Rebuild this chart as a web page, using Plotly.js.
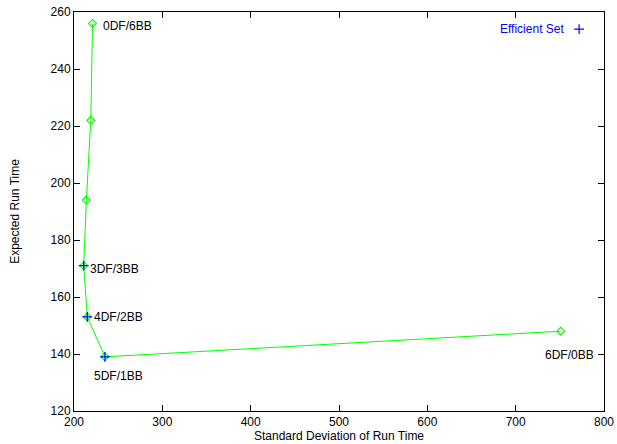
<!DOCTYPE html>
<html>
<head>
<meta charset="utf-8">
<script src="https://cdn.plot.ly/plotly-3.0.1.min.js"></script>
<style>html,body{margin:0;padding:0;background:#fff}#chart{width:617px;height:444px}</style>
</head>
<body>
<div id="chart"></div>
<script>
// Data
const configLabels = ["0DF/6BB", "1DF/5BB", "2DF/4BB", "3DF/3BB", "4DF/2BB", "5DF/1BB", "6DF/0BB"];
const stdDev = [221, 219, 214, 211, 215, 235, 751];
const expectedTime = [256, 222, 194, 171, 153, 139, 148];
const efficientLabels = ["3DF/3BB", "4DF/2BB", "5DF/1BB"];
const shownLabels = ["0DF/6BB", "3DF/3BB", "4DF/2BB", "5DF/1BB", "6DF/0BB"];
const xTicks = [200, 300, 400, 500, 600, 700, 800];
const yTicks = [120, 140, 160, 180, 200, 220, 240, 260];

const effX = efficientLabels.map(l => stdDev[configLabels.indexOf(l)]);
const effY = efficientLabels.map(l => expectedTime[configLabels.indexOf(l)]);

const font = {family: "Liberation Sans, Arial, sans-serif", size: 12, color: "#000"};

// label placement styles (offsets in px)
const labelStyle = {
  "0DF/6BB": {xanchor: "left", yanchor: "middle", xshift: 8, yshift: -3},
  "3DF/3BB": {xanchor: "left", yanchor: "middle", xshift: 4, yshift: -3},
  "4DF/2BB": {xanchor: "left", yanchor: "middle", xshift: 5, yshift: 0},
  "5DF/1BB": {xanchor: "left", yanchor: "middle", xshift: -13, yshift: -19},
  "6DF/0BB": {xanchor: "left", yanchor: "middle", xshift: -18, yshift: -24}
};

const annotations = shownLabels.map(l => {
  const i = configLabels.indexOf(l);
  const s = labelStyle[l];
  return {x: stdDev[i], y: expectedTime[i], xref: "x", yref: "y", text: l, showarrow: false,
    xanchor: s.xanchor, yanchor: s.yanchor, xshift: s.xshift, yshift: s.yshift, font: font};
});
annotations.push({x: 0.929, y: 0.957, xref: "paper", yref: "paper", text: "Efficient Set",
  showarrow: false, xanchor: "right", yanchor: "middle", font: {family: font.family, size: 12, color: "#0000ff"}});

const traces = [
  {x: stdDev, y: expectedTime, mode: "lines+markers", type: "scatter", showlegend: false,
   line: {color: "#00ff00", width: 1},
   marker: {symbol: "diamond-open", size: 6, color: "#00ff00", line: {color: "#00ff00", width: 1.2}}},
  {x: effX, y: effY, mode: "markers", type: "scatter", showlegend: false,
   marker: {symbol: "cross-thin-open", size: 7, color: "#0000ff", line: {color: "#0000ff", width: 1.2}}},
  {x: [0.953], y: [0.957], xaxis: "x2", yaxis: "y2", mode: "markers", type: "scatter", showlegend: false,
   marker: {symbol: "cross-thin-open", size: 7, color: "#0000ff", line: {color: "#0000ff", width: 1.2}}}
];

const layout = {
  width: 617, height: 444,
  margin: {l: 74, r: 13, t: 12, b: 33},
  paper_bgcolor: "#fff", plot_bgcolor: "#fff",
  font: font,
  showlegend: false,
  xaxis: {range: [200, 800], tickvals: xTicks, ticktext: xTicks.map(String), ticks: "inside", ticklen: 6,
    tickcolor: "#000", showline: true, linecolor: "#000", linewidth: 1, mirror: "ticks", showgrid: false, zeroline: false,
    tickfont: font, title: {text: "Standard Deviation of Run Time", font: font, standoff: 0}},
  yaxis: {range: [120, 260], tickvals: yTicks, ticktext: yTicks.map(String), ticks: "inside", ticklen: 6,
    tickcolor: "#000", showline: true, linecolor: "#000", linewidth: 1, mirror: "ticks", showgrid: false, zeroline: false,
    tickfont: font, title: {text: "Expected Run Time", font: font, standoff: 28}},
  xaxis2: {range: [0, 1], overlaying: "x", visible: false, fixedrange: true},
  yaxis2: {range: [0, 1], overlaying: "y", visible: false, fixedrange: true},
  annotations: annotations
};

Plotly.newPlot("chart", traces, layout, {staticPlot: true, displayModeBar: false});
</script>
</body>
</html>
